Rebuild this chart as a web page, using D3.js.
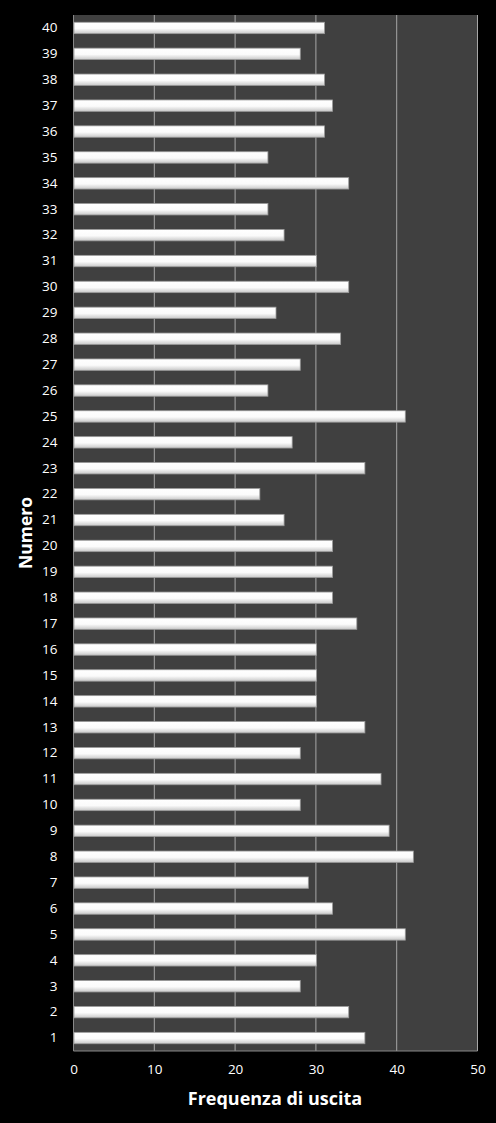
<!DOCTYPE html>
<html><head><meta charset="utf-8">
<script src="https://cdn.jsdelivr.net/npm/d3@7"></script>
<style>html,body{margin:0;padding:0;background:#000;}</style>
</head><body>
<svg id="c" width="496" height="1123"></svg>
<script>
const categories = ["1","2","3","4","5","6","7","8","9","10","11","12","13","14","15","16","17","18","19","20","21","22","23","24","25","26","27","28","29","30","31","32","33","34","35","36","37","38","39","40"];
const values = [36,34,28,30,41,32,29,42,39,28,38,28,36,30,30,30,35,32,32,32,26,23,36,27,41,24,28,33,25,34,30,26,24,34,24,31,32,31,28,31];
const xTicks = [0,10,20,30,40,50];
const xTitle = "Frequenza di uscita";
const yTitle = "Numero";

const svg = d3.select("#c");
svg.append("rect").attr("width",496).attr("height",1123).attr("fill","#000");
const m = {l:73.5, r:477.5, t:15, b:1051};
const x = d3.scaleLinear().domain([0,50]).range([m.l,m.r]);
const y = d3.scaleBand().domain(categories.slice().reverse()).range([m.t,m.b]).paddingInner(0.56).paddingOuter(0.28);

const defs = svg.append("defs");
const g = defs.append("linearGradient").attr("id","bg").attr("x1",0).attr("y1",0).attr("x2",0).attr("y2",1);
g.append("stop").attr("offset","0%").attr("stop-color","#ffffff");
g.append("stop").attr("offset","55%").attr("stop-color","#fbfbfb");
g.append("stop").attr("offset","100%").attr("stop-color","#c8c8c8");

svg.append("rect").attr("x",m.l).attr("y",m.t).attr("width",m.r-m.l).attr("height",m.b-m.t).attr("fill","#404040");

svg.append("g").selectAll("line").data(xTicks.slice(1)).join("line")
  .attr("x1",d=>x(d)).attr("x2",d=>x(d)).attr("y1",m.t).attr("y2",m.b)
  .attr("stroke","#a6a6a6").attr("stroke-width",1);

svg.append("line").attr("x1",m.l).attr("x2",m.l).attr("y1",m.t).attr("y2",m.b).attr("stroke","#888").attr("stroke-width",1);
svg.append("line").attr("x1",m.l).attr("x2",m.r).attr("y1",m.b).attr("y2",m.b).attr("stroke","#888").attr("stroke-width",1);

svg.append("g").selectAll("rect").data(categories).join("rect")
  .attr("x",x(0)+0.5).attr("y",d=>y(d))
  .attr("width",(d,i)=>x(values[i])-x(0)).attr("height",y.bandwidth())
  .attr("fill","url(#bg)").attr("stroke","#9a9a9a").attr("stroke-width",0.8);

const font = "Open Sans, Noto Sans, sans-serif";
const ya = svg.append("g").attr("transform",`translate(${m.l},0)`).call(d3.axisLeft(y).tickSize(0).tickPadding(16));
ya.select(".domain").remove();
ya.selectAll("text").attr("fill","#fff").attr("font-family",font).attr("font-size",13.5);

const xa = svg.append("g").attr("transform",`translate(0,${m.b})`).call(d3.axisBottom(x).tickValues(xTicks).tickSize(0).tickPadding(13));
xa.select(".domain").remove();
xa.selectAll("text").attr("fill","#fff").attr("font-family",font).attr("font-size",13.5);

svg.append("text").attr("x",275).attr("y",1105).attr("text-anchor","middle")
  .attr("fill","#fff").attr("font-family",font).attr("font-weight","bold").attr("font-size",18).text(xTitle);
svg.append("text").attr("transform",`translate(32,${(m.t+m.b)/2}) rotate(-90)`).attr("text-anchor","middle")
  .attr("fill","#fff").attr("font-family",font).attr("font-weight","bold").attr("font-size",17.5).text(yTitle);
</script>
</body></html>
